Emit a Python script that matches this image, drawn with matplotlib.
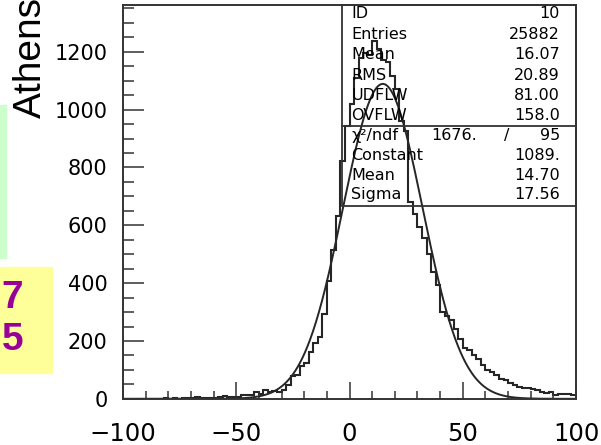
import numpy as np
import matplotlib.pyplot as plt
from matplotlib.patches import Rectangle

W, H = 601, 445

# histogram ID 10 : 100 bins from -100 to 100
x_lo, x_hi, n_bins = -100.0, 100.0, 100
counts = [
    # -100 .. -72
    0, 0, 1, 0, 1, 0, 1, 1, 0, 2, 1, 2, 1, 3, 2,
    # -70 .. -30
    3, 6, 3, 2, 4, 3, 5, 10, 6, 5, 7, 12, 12, 13, 22, 17, 30, 25, 26, 24, 30,
    # -28 .. -2
    47, 80, 82, 113, 125, 163, 192, 213, 292, 406, 515, 633, 823, 945,
    # 0 .. 48
    1020, 1110, 1180, 1195, 1190, 1238, 1210, 1170, 1165, 1118, 1072, 962, 927,
    680, 640, 595, 555, 500, 440, 395, 300, 288, 272, 240, 206,
    # 50 .. 98
    175, 168, 152, 136, 117, 100, 92, 82, 70, 64, 53, 47, 42, 38, 36,
    34, 30, 24, 20, 25, 14, 18, 15, 17, 13,
]

# gaussian fit parameters
fit_const, fit_mean, fit_sigma = 1089.0, 14.70, 17.56

stat_names = ["ID", "Entries", "Mean", "RMS", "UDFLW", "OVFLW"]
stat_values = ["10", "25882", "16.07", "20.89", "81.00", "158.0"]
chi2_text, ndf_text = "1676.", "95"
fit_names = ["Constant", "Mean", "Sigma"]
fit_values = ["1089.", "14.70", "17.56"]

x_ticks = [-100, -50, 0, 50, 100]
y_ticks = [0, 200, 400, 600, 800, 1000, 1200]

line_col = "#262626"


def fx(px):
    return px / W


def fy(py):
    return 1 - py / H


fig = plt.figure(figsize=(W / 100, H / 100), dpi=100)
ax = fig.add_axes([fx(123), fy(398.8), (576 - 123) / W, (398.8 - 5) / H])

edges = np.linspace(x_lo, x_hi, n_bins + 1)
ax.stairs(counts, edges, color=line_col, linewidth=1.5, baseline=None)

xs = np.linspace(x_lo, x_hi, 600)
ax.plot(xs, fit_const * np.exp(-0.5 * ((xs - fit_mean) / fit_sigma) ** 2),
        color=line_col, linewidth=1.4)

ax.set_xlim(x_lo, x_hi)
ax.set_ylim(0, 1.1 * max(counts))
ax.set_xticks(x_ticks)
ax.set_xticks(np.arange(x_lo, x_hi + 1, 10), minor=True)
ax.set_yticks(y_ticks)
ax.set_yticks(np.arange(0, 1351, 50), minor=True)

for s in ax.spines.values():
    s.set_color("#333333")
    s.set_linewidth(1.4)

ax.tick_params(axis="y", which="major", direction="in", length=15, width=1.1,
               color="#333333", labelsize=15, pad=11)
ax.tick_params(axis="y", which="minor", direction="in", length=8, width=1.1,
               color="#333333")
ax.tick_params(axis="x", which="major", direction="in", length=12, width=1.1,
               color="#333333", labelsize=17.5, pad=17)
ax.tick_params(axis="x", which="minor", direction="in", length=5.5, width=1.1,
               color="#333333")

# statistics box (no fill, histogram shows through)
box_l, box_r, box_t, box_m, box_b = 341.5, 576, 5, 126, 206
fig.add_artist(Rectangle((fx(box_l), fy(box_b)), (box_r - box_l) / W,
                         (box_b - box_t) / H, transform=fig.transFigure,
                         fill=False, edgecolor="#333333", linewidth=1.3))
fig.add_artist(plt.Line2D([fx(box_l), fx(box_r)], [fy(box_m), fy(box_m)],
                          transform=fig.transFigure, color="#333333",
                          linewidth=1.3))

stat_font = dict(fontsize=11.5, fontweight="medium", va="center")
row_y = [14, 34.5, 54.5, 75, 95.5, 115.5]
for yy, name, val in zip(row_y, stat_names, stat_values):
    fig.text(fx(351.5), fy(yy), name, ha="left", **stat_font)
    fig.text(fx(560), fy(yy), val, ha="right", **stat_font)

fig.text(fx(351.5), fy(135), "χ²/ndf", ha="left", **stat_font)
fig.text(fx(477), fy(135), chi2_text, ha="right", **stat_font)
fig.text(fx(507), fy(135), "/", ha="center", **stat_font)
fig.text(fx(560), fy(135), ndf_text, ha="right", **stat_font)
for yy, name, val in zip([155, 175, 195], fit_names, fit_values):
    fig.text(fx(351.5), fy(yy), name, ha="left", **stat_font)
    fig.text(fx(560), fy(yy), val, ha="right", **stat_font)

# slide decorations around the plot
fig.add_artist(Rectangle((0, fy(258)), fx(6), (258 - 105) / H,
                         transform=fig.transFigure, color="#ccffcc", zorder=0))
fig.add_artist(Rectangle((0, fy(373)), fx(52), (373 - 267) / H,
                         transform=fig.transFigure, color="#ffff99", zorder=0))
fig.text(fx(23), fy(298), "7", fontsize=28, fontweight="bold",
         family="Liberation Sans", color="#990099", ha="right", va="center")
fig.text(fx(23), fy(340), "5", fontsize=28, fontweight="bold",
         family="Liberation Sans", color="#990099", ha="right", va="center")
fig.text(fx(31), fy(118), "Athens", fontsize=28, family="Liberation Sans",
         rotation=90, ha="center", va="bottom")

fig.savefig("out.png", dpi=100)
